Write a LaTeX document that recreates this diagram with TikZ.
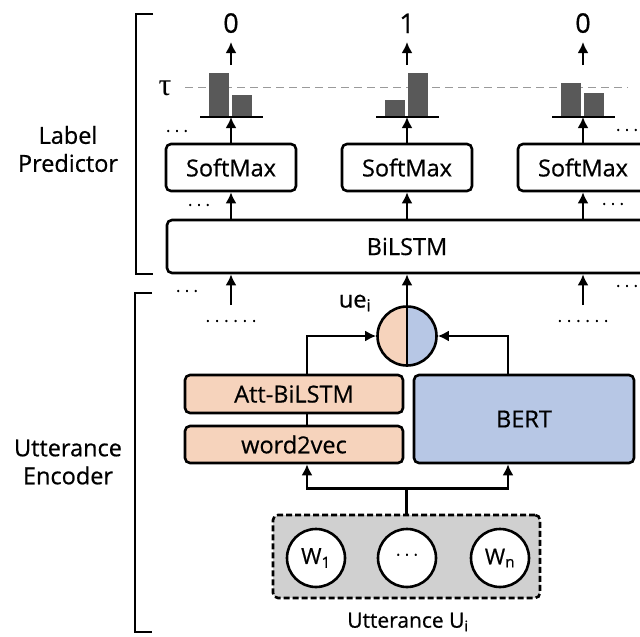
\documentclass[tikz,border=0pt]{standalone}
\usepackage{fontspec}
\setmainfont{Open Sans}[FakeBold=0.6]
\newfontfamily\taufont{Liberation Serif}
\usepackage{tikz}
\usetikzlibrary{calc, positioning, arrows.meta}

\definecolor{peach}{HTML}{F6D3BC}
\definecolor{bertblue}{HTML}{B7C7E5}
\definecolor{uttgray}{HTML}{D0D0D0}
\definecolor{bargray}{HTML}{595959}
\definecolor{tauline}{HTML}{9A9A9A}

\newcommand{\tridots}{.\kern4.5pt.\kern4.5pt.}
\newcommand{\sixdots}{.\kern5pt.\kern5pt.\kern5pt.\kern5pt.\kern5pt.}

\tikzset{
  conn/.style={line width=2.6pt},
  box/.style={draw, line width=2.6pt, rounded corners=5pt, inner sep=0pt, font=\fontsize{23.5}{24}\selectfont},
  smbox/.style={box, fill=white, minimum width=130pt, minimum height=47pt},
  encbox/.style={box, fill=peach, minimum width=218pt, minimum height=37pt},
  wordnode/.style={circle, draw, line width=2.6pt, fill=white, minimum size=58pt, inner sep=0pt, font=\fontsize{22}{22}\selectfont},
  sidelbl/.style={align=center, font=\fontsize{23.5}{28}\selectfont},
  outlbl/.style={inner sep=0pt, outer sep=9pt, font=\fontsize{27}{27}\selectfont},
  dotlbl/.style={inner sep=0pt, font=\fontsize{16}{16}\selectfont},
}

\begin{document}
\begin{tikzpicture}[x=1pt, y=-1pt, >={Latex[length=11pt,width=11pt]}]
\useasboundingbox (0,0) rectangle (640,637);

% brackets and side labels
\draw[conn] (153,14) -- (136,14) -- (136,274) -- (153,274);
\draw[conn] (152,293) -- (135,293) -- (135,632) -- (152,632);
\node[sidelbl] (predlbl) at (68,149) {Label\\Predictor};
\node[sidelbl] (enclbl) at (68,462) {Utterance\\Encoder};

% BiLSTM layer
\node[box, fill=white, minimum width=480pt, minimum height=53pt] (lstm) at (407,246.5) {BiLSTM};

% threshold
\draw[tauline, line width=1.8pt, dash pattern=on 8pt off 5pt] (185,87.5) -- (628,87.5);
\node[font=\taufont\fontsize{32}{32}\selectfont, inner sep=0pt] (tau) at (165,88) {τ};

% label predictor columns
\foreach \x/\lab/\ha/\hb [count=\i] in {231/0/73/95, 407/1/100/73, 583/0/83/93} {
  \node[smbox] (sm\i) at (\x,167.5) {SoftMax};
  \coordinate (base\i) at (\x,117);
  \fill[bargray] ({\x-22},117) rectangle ({\x-2},\ha);
  \fill[bargray] ({\x+1},117) rectangle ({\x+21},\hb);
  \draw[conn] ($(base\i)+(-31,0)$) -- ($(base\i)+(32,0)$);
  \coordinate (top\i) at (\x,65);
  \node[outlbl, anchor=south] (out\i) at (\x,42) {\lab};
  \draw[conn,->] (top\i) -- (out\i.south);
  \draw[conn,->] (sm\i.north) -- (base\i);
  \draw[conn,->] (lstm.north -| sm\i) -- (sm\i.south);
}

% dots
\node[dotlbl] (d1) at (177,131) {\tridots};
\node[dotlbl] (d2) at (199,205) {\tridots};
\node[dotlbl] (d3) at (627,130) {\tridots};
\node[dotlbl] (d4) at (613,204) {\tridots};
\node[dotlbl] (d5) at (187,291) {\tridots};
\node[dotlbl] (d6) at (627,286) {\tridots};
\node[dotlbl] (d7) at (231,321) {\sixdots};
\node[dotlbl] (d8) at (583,321) {\sixdots};

% inputs of other utterances
\coordinate (in1) at (231,305);
\coordinate (in3) at (583,305);
\draw[conn,->] (in1) -- (lstm.south -| in1);
\draw[conn,->] (in3) -- (lstm.south -| in3);

% utterance encoder
\node[encbox, minimum height=38pt] (att) at (294,394) {Att-BiLSTM};
\node[encbox] (w2v) at (294,444.5) {word2vec};
\node[box, fill=bertblue, minimum width=220pt, minimum height=88pt] (bert) at (524,419) {BERT};

\node[circle, draw, line width=2.6pt, minimum size=59pt, inner sep=0pt,
  path picture={
    \fill[peach] (path picture bounding box.north west) rectangle (path picture bounding box.south);
    \fill[bertblue] (path picture bounding box.south) rectangle (path picture bounding box.north east);
  }] (ue) at (407,336) {};
\draw[conn] (ue.north) -- (ue.south);
\node[font=\fontsize{23.5}{24}\selectfont] (uelbl) at (355,303) {ue\textsubscript{i}};

\draw[conn,->] (ue.north) -- (lstm.south -| ue);
\draw[conn,->] ($(att.north)+(13,0)$) |- (ue.west);
\draw[conn,->] ($(bert.north)+(-16,0)$) |- (ue.east);
\draw[conn] ($(w2v.north)+(13,0)$) -- ($(att.south)+(13,0)$);

% utterance words
\node[draw, line width=2.6pt, dash pattern=on 6pt off 3pt, fill=uttgray, rounded corners=5pt,
  minimum width=267pt, minimum height=83pt] (utt) at (406.5,556.5) {};
\node[wordnode] (w1) at (316,558) {W\textsubscript{1}};
\node[wordnode] (wd) at (407,558) {\raisebox{0.3em}{\fontsize{16}{16}\selectfont\tridots}};
\node[wordnode] (wn) at (500,558) {W\textsubscript{n}};
\node[font=\fontsize{21}{22}\selectfont] (uttlbl) at (408,622) {Utterance U\textsubscript{i}};

\draw[conn,->] (utt.north) -- ++(0,-25) -| ($(w2v.south)+(13,0)$);
\draw[conn,->] (utt.north) -- ++(0,-25) -| ($(bert.south)+(-16,0)$);

\end{tikzpicture}
\end{document}
